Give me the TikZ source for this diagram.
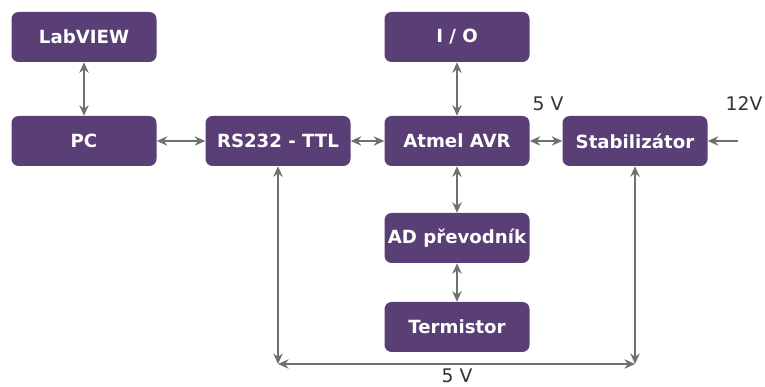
\documentclass[tikz,border=0pt]{standalone}
\usepackage{fontspec}
\setmainfont{DejaVu Sans}
\usetikzlibrary{arrows.meta}
\definecolor{blokfill}{RGB}{90,62,118}
\definecolor{sipka}{RGB}{112,112,112}
\definecolor{popis}{RGB}{50,50,50}
\tikzset{
	blok/.style={fill=blokfill, rounded corners=6pt, minimum width=4.35cm, minimum height=1.5cm,
		text=white, font=\fontsize{15.5}{18}\selectfont\bfseries, inner sep=0pt},
	spoj/.style={draw=sipka, line width=1.7pt, {Stealth[length=9pt,width=8pt]}-{Stealth[length=9pt,width=8pt]}},
	napeti/.style={text=popis, font=\fontsize{16}{18}\selectfont}
}
\begin{document}
\begin{tikzpicture}[line join=round]
	\useasboundingbox (0,0) rectangle (22.95,11.61);
	\node[blok] (labview) at (2.52,10.5) {LabVIEW};
	\node[blok] (pc) at (2.52,7.38) {PC};
	\node[blok] (rs) at (8.34,7.38) {RS232 - TTL};
	\node[blok] (avr) at (13.71,7.38) {Atmel AVR};
	\node[blok] (stab) at (19.05,7.38) {Stabilizátor};
	\node[blok] (io) at (13.71,10.5) {I / O};
	\node[blok] (ad) at (13.71,4.47) {AD převodník};
	\node[blok] (term) at (13.71,1.8) {Termistor};
	\coordinate (rohL) at (8.34,0.69);
	\coordinate (rohP) at (19.05,0.69);
	\coordinate (vstup) at (22.14,7.38);
	\node[napeti] (u5) at (16.44,8.49) {5 V};
	\node[napeti] (u12) at (22.32,8.49) {12V};
	\node[napeti, anchor=north, inner sep=1pt] (u5dole) at (13.71,0.6) {5 V};
	\draw[spoj] (labview) -- (pc);
	\draw[spoj] (pc) -- (rs);
	\draw[spoj] (rs) -- (avr);
	\draw[spoj] (avr) -- (stab);
	\draw[spoj] (io) -- (avr);
	\draw[spoj] (avr) -- (ad);
	\draw[spoj] (ad) -- (term);
	\draw[spoj] (rs) -- (rohL);
	\draw[spoj] (stab) -- (rohP);
	\draw[spoj] (rohL) -- (rohP);
	\draw[spoj, {-Stealth[length=9pt,width=8pt]}] (vstup) -- (stab);
\end{tikzpicture}
\end{document}
